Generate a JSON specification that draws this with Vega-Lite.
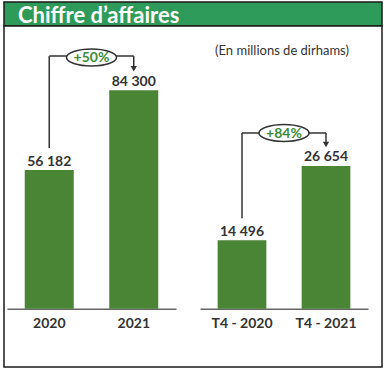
{
  "$schema": "https://vega.github.io/schema/vega-lite/v6.json",
  "background": "white",
  "padding": {"left": 3, "top": 1, "right": 3, "bottom": 1},
  "spacing": 0,
  "bounds": "flush",
  "config": {"font": "Lato", "concat": {"spacing": 0}},
  "datasets": {
    "bars": [
      {"panel": "A", "period": "2020", "value": 56182, "label": "56 182"},
      {"panel": "A", "period": "2021", "value": 84300, "label": "84 300"},
      {"panel": "B", "period": "T4 - 2020", "value": 14496, "label": "14 496"},
      {"panel": "B", "period": "T4 - 2021", "value": 26654, "label": "26 654"}
    ],
    "growth": [
      {"panel": "A", "from": "2020", "to": "2021", "growth": "+50%"},
      {"panel": "B", "from": "T4 - 2020", "to": "T4 - 2021", "growth": "+84%"}
    ],
    "texts": [
      {"role": "title", "text": "Chiffre d’affaires"},
      {"role": "unit", "text": "(En millions de dirhams)"}
    ]
  },
  "vconcat": [
    {
      "width": 378,
      "height": 24,
      "view": {"fill": "#2e9b5b", "stroke": "#1a1a1a", "strokeWidth": 1.5},
      "data": {"name": "texts"},
      "transform": [{"filter": "datum.role === 'title'"}],
      "mark": {"type": "text", "align": "left", "baseline": "alphabetic", "dx": -175, "dy": 8.5, "fontSize": 22, "fontWeight": "bold", "color": "white"},
      "encoding": {"text": {"field": "text"}}
    },
    {
      "width": 378,
      "height": 341,
      "view": {"fill": "white", "stroke": "#1a1a1a", "strokeWidth": 1.5},
      "resolve": {"scale": {"x": "independent", "y": "independent"}, "axis": {"x": "independent", "y": "independent"}},
      "layer": [
        {
          "data": {"name": "texts"},
          "transform": [{"filter": "datum.role === 'unit'"}],
          "mark": {"type": "text", "align": "center", "baseline": "alphabetic", "dx": 89, "dy": -141.5, "fontSize": 13, "color": "#333333"},
          "encoding": {"text": {"field": "text"}}
        },
        {
          "layer": [
            {
              "data": {"name": "bars"},
              "transform": [{"filter": "datum.panel === 'A'"}],
              "mark": {"type": "bar", "color": "#4a8535"},
              "encoding": {
                "x": {
                  "field": "period", "type": "nominal", "sort": null,
                  "scale": {"domain": ["2020", "2021"], "range": [3, 172], "paddingInner": 0.42, "paddingOuter": 0.21},
                  "axis": {"orient": "bottom", "offset": -58.3, "title": null, "ticks": false, "labelAngle": 0, "labelPadding": 8, "labelFontSize": 14, "labelFontWeight": "bold", "labelColor": "#333333", "domainColor": "#666666", "domainWidth": 1.5}
                },
                "y": {
                  "field": "value", "type": "quantitative",
                  "scale": {"domain": [7250, 106985], "range": [282.7, 0], "zero": false, "nice": false, "clamp": true},
                  "axis": null
                },
                "y2": {"datum": 0}
              }
            },
            {
              "data": {"name": "bars"},
              "transform": [{"filter": "datum.panel === 'A'"}],
              "mark": {"type": "text", "baseline": "alphabetic", "dy": -4.5, "fontSize": 14, "fontWeight": "bold", "color": "#333333"},
              "encoding": {
                "x": {"field": "period", "type": "nominal", "sort": null},
                "y": {"field": "value", "type": "quantitative"},
                "text": {"field": "label"}
              }
            },
            {
              "data": {"name": "bars"},
              "transform": [{"filter": "datum.panel === 'A'"}],
              "mark": {"type": "rule", "yOffset": -22, "color": "#333333", "strokeWidth": 1.5},
              "encoding": {
                "x": {"field": "period", "type": "nominal", "sort": null},
                "y": {"field": "value", "type": "quantitative"},
                "y2": {"datum": 96400}
              }
            },
            {
              "data": {"name": "bars"},
              "transform": [{"filter": "datum.panel === 'A'"}],
              "mark": {"type": "line", "color": "#333333", "strokeWidth": 1.5},
              "encoding": {
                "x": {"field": "period", "type": "nominal", "sort": null},
                "y": {"datum": 96400}
              }
            },
            {
              "data": {"name": "bars"},
              "transform": [{"filter": "datum.period === '2021'"}],
              "mark": {"type": "point", "shape": "triangle-down", "filled": true, "size": 40, "opacity": 1, "color": "#333333", "yOffset": -21.5},
              "encoding": {
                "x": {"field": "period", "type": "nominal", "sort": null},
                "y": {"field": "value", "type": "quantitative"}
              }
            },
            {
              "data": {"name": "growth"},
              "transform": [{"filter": "datum.panel === 'A'"}],
              "mark": {"type": "point", "shape": "M-1,0A1,0.34,0,1,1,1,0A1,0.34,0,1,1,-1,0Z", "size": 2500, "filled": false, "fill": "white", "fillOpacity": 1, "stroke": "#333333", "strokeWidth": 1.5, "opacity": 1, "xOffset": 42.25, "yOffset": 1.5},
              "encoding": {
                "x": {"field": "from", "type": "nominal", "sort": null},
                "y": {"datum": 96400}
              }
            },
            {
              "data": {"name": "growth"},
              "transform": [{"filter": "datum.panel === 'A'"}],
              "mark": {"type": "text", "baseline": "middle", "align": "center", "fontSize": 14, "fontWeight": "bold", "color": "#3d8b37", "xOffset": 42.25, "yOffset": 2},
              "encoding": {
                "x": {"field": "from", "type": "nominal", "sort": null},
                "y": {"datum": 96400},
                "text": {"field": "growth"}
              }
            }
          ]
        },
        {
          "layer": [
            {
              "data": {"name": "bars"},
              "transform": [{"filter": "datum.panel === 'B'"}],
              "mark": {"type": "bar", "color": "#4a8535"},
              "encoding": {
                "x": {
                  "field": "period", "type": "nominal", "sort": null,
                  "scale": {"domain": ["T4 - 2020", "T4 - 2021"], "range": [196, 364], "paddingInner": 0.42, "paddingOuter": 0.21},
                  "axis": {"orient": "bottom", "offset": -58.3, "title": null, "ticks": false, "labelAngle": 0, "labelPadding": 8, "labelFontSize": 14, "labelFontWeight": "bold", "labelColor": "#333333", "domainColor": "#666666", "domainWidth": 1.5}
                },
                "y": {
                  "field": "value", "type": "quantitative",
                  "scale": {"domain": [3303, 49562], "range": [282.7, 0], "zero": false, "nice": false, "clamp": true},
                  "axis": null
                },
                "y2": {"datum": 0}
              }
            },
            {
              "data": {"name": "bars"},
              "transform": [{"filter": "datum.panel === 'B'"}],
              "mark": {"type": "text", "baseline": "alphabetic", "dy": -4.5, "fontSize": 14, "fontWeight": "bold", "color": "#333333"},
              "encoding": {
                "x": {"field": "period", "type": "nominal", "sort": null},
                "y": {"field": "value", "type": "quantitative"},
                "text": {"field": "label"}
              }
            },
            {
              "data": {"name": "bars"},
              "transform": [{"filter": "datum.panel === 'B'"}],
              "mark": {"type": "rule", "yOffset": -22, "color": "#333333", "strokeWidth": 1.5},
              "encoding": {
                "x": {"field": "period", "type": "nominal", "sort": null},
                "y": {"field": "value", "type": "quantitative"},
                "y2": {"datum": 32050}
              }
            },
            {
              "data": {"name": "bars"},
              "transform": [{"filter": "datum.panel === 'B'"}],
              "mark": {"type": "line", "color": "#333333", "strokeWidth": 1.5},
              "encoding": {
                "x": {"field": "period", "type": "nominal", "sort": null},
                "y": {"datum": 32050}
              }
            },
            {
              "data": {"name": "bars"},
              "transform": [{"filter": "datum.period === 'T4 - 2021'"}],
              "mark": {"type": "point", "shape": "triangle-down", "filled": true, "size": 40, "opacity": 1, "color": "#333333", "yOffset": -21.5},
              "encoding": {
                "x": {"field": "period", "type": "nominal", "sort": null},
                "y": {"field": "value", "type": "quantitative"}
              }
            },
            {
              "data": {"name": "growth"},
              "transform": [{"filter": "datum.panel === 'B'"}],
              "mark": {"type": "point", "shape": "M-1,0A1,0.34,0,1,1,1,0A1,0.34,0,1,1,-1,0Z", "size": 2500, "filled": false, "fill": "white", "fillOpacity": 1, "stroke": "#333333", "strokeWidth": 1.5, "opacity": 1, "xOffset": 42, "yOffset": 0},
              "encoding": {
                "x": {"field": "from", "type": "nominal", "sort": null},
                "y": {"datum": 32050}
              }
            },
            {
              "data": {"name": "growth"},
              "transform": [{"filter": "datum.panel === 'B'"}],
              "mark": {"type": "text", "baseline": "middle", "align": "center", "fontSize": 14, "fontWeight": "bold", "color": "#3d8b37", "xOffset": 42, "yOffset": 0.5},
              "encoding": {
                "x": {"field": "from", "type": "nominal", "sort": null},
                "y": {"datum": 32050},
                "text": {"field": "growth"}
              }
            }
          ]
        }
      ]
    }
  ]
}
